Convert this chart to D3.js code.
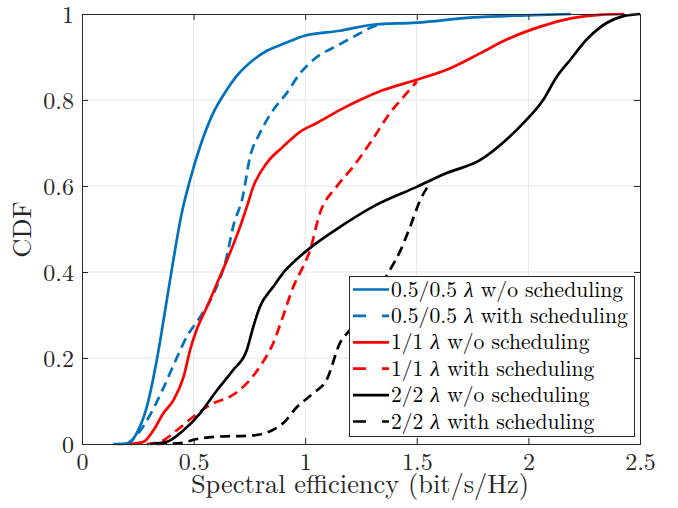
<!DOCTYPE html>
<html><head><meta charset="utf-8">
<script src="https://cdn.jsdelivr.net/npm/d3@7"></script>
<style>body{margin:0;background:#fff}svg{display:block}</style>
</head><body>
<svg id="c" width="678" height="508"></svg>
<script>
const FONT = '"Latin Modern Roman","CMU Serif","Liberation Serif",serif';
const xTicks = [0, 0.5, 1, 1.5, 2, 2.5];
const yTicks = [0, 0.2, 0.4, 0.6, 0.8, 1];
const seriesPrefix = ["0.5/0.5","0.5/0.5","1/1","1/1","2/2","2/2"];
const seriesSuffix = ["w/o scheduling","with scheduling","w/o scheduling","with scheduling","w/o scheduling","with scheduling"];
const seriesColors = ["#0072BD","#0072BD","#FF0000","#FF0000","#000000","#000000"];
const seriesDashed = [false,true,false,true,false,true];

const blueSolid = [[0.14,0],[0.19,0.001],[0.215,0.003],[0.245,0.025],[0.29,0.086],[0.335,0.195],[0.38,0.335],[0.41,0.43],[0.447,0.537],[0.484,0.614],[0.528,0.69],[0.588,0.77],[0.648,0.823],[0.70,0.86],[0.767,0.893],[0.83,0.915],[0.90,0.93],[1.0,0.95],[1.156,0.961],[1.30,0.975],[1.5,0.98],[1.75,0.992],[1.99,0.997],[2.19,1.0]];
const blueDash = [[0.2,0],[0.245,0.02],[0.30,0.063],[0.36,0.125],[0.42,0.195],[0.47,0.25],[0.53,0.296],[0.59,0.35],[0.648,0.435],[0.677,0.505],[0.72,0.575],[0.753,0.668],[0.797,0.723],[0.857,0.777],[0.917,0.816],[0.977,0.862],[1.036,0.893],[1.156,0.93],[1.245,0.955],[1.30,0.97],[1.35,0.975]];
const redSolid = [[0.215,0],[0.275,0.005],[0.32,0.032],[0.365,0.072],[0.41,0.102],[0.455,0.156],[0.484,0.218],[0.513,0.265],[0.56,0.319],[0.605,0.374],[0.65,0.428],[0.708,0.505],[0.738,0.551],[0.767,0.598],[0.827,0.653],[0.90,0.691],[0.977,0.726],[1.05,0.746],[1.156,0.777],[1.245,0.80],[1.35,0.823],[1.50,0.847],[1.65,0.874],[1.785,0.909],[1.90,0.94],[2.05,0.97],[2.19,0.99],[2.32,0.998],[2.43,1.0]];
const redDash = [[0.29,0],[0.35,0.005],[0.425,0.032],[0.50,0.064],[0.59,0.095],[0.663,0.11],[0.738,0.141],[0.797,0.18],[0.857,0.235],[0.90,0.296],[0.947,0.366],[0.99,0.412],[1.02,0.448],[1.066,0.537],[1.14,0.598],[1.215,0.645],[1.30,0.707],[1.38,0.77],[1.455,0.816],[1.50,0.843]];
const blackSolid = [[0.305,0],[0.38,0.005],[0.455,0.032],[0.53,0.072],[0.605,0.125],[0.677,0.172],[0.738,0.218],[0.767,0.272],[0.797,0.319],[0.857,0.366],[0.90,0.397],[0.963,0.43],[1.05,0.467],[1.156,0.505],[1.30,0.551],[1.50,0.598],[1.634,0.63],[1.783,0.66],[1.90,0.707],[1.99,0.753],[2.066,0.80],[2.127,0.854],[2.187,0.893],[2.26,0.94],[2.35,0.979],[2.425,0.995],[2.5,1.0]];
const blackDash = [[0.335,0],[0.455,0.003],[0.50,0.01],[0.605,0.017],[0.767,0.02],[0.90,0.048],[0.963,0.086],[1.036,0.118],[1.096,0.149],[1.156,0.235],[1.20,0.265],[1.30,0.34],[1.38,0.405],[1.425,0.448],[1.47,0.505],[1.515,0.567],[1.56,0.607]];
const seriesData = [blueSolid, blueDash, redSolid, redDash, blackSolid, blackDash];

const svg = d3.select("#c");
const L=82, R=640, T=14, B=444;
const x = d3.scaleLinear().domain([0,2.5]).range([L,R]);
const y = d3.scaleLinear().domain([0,1]).range([B,T]);

// grid
svg.append("g").selectAll("line").data(xTicks.slice(1,-1)).enter().append("line")
  .attr("x1",d=>x(d)).attr("x2",d=>x(d)).attr("y1",T).attr("y2",B)
  .attr("stroke","#e6e6e6").attr("stroke-width",1);
svg.append("g").selectAll("line").data(yTicks.slice(1,-1)).enter().append("line")
  .attr("y1",d=>y(d)).attr("y2",d=>y(d)).attr("x1",L).attr("x2",R)
  .attr("stroke","#e6e6e6").attr("stroke-width",1);

// curves
const line = d3.line().x(d=>x(d[0])).y(d=>y(d[1])).curve(d3.curveMonotoneX);
seriesData.forEach((s,i)=>{
  svg.append("path").datum(s).attr("d",line).attr("fill","none")
    .attr("stroke",seriesColors[i]).attr("stroke-width",2.7)
    .attr("stroke-linejoin","round")
    .attr("stroke-dasharray",seriesDashed[i]?"10,6":null);
});

// axes box
const fmt = d=>String(d);
const xa = svg.append("g").attr("transform",`translate(0,${B})`).call(d3.axisBottom(x).tickValues(xTicks).tickSize(-6).tickPadding(9).tickFormat(fmt));
const ya = svg.append("g").attr("transform",`translate(${L},0)`).call(d3.axisLeft(y).tickValues(yTicks).tickSize(-6).tickPadding(8).tickFormat(fmt));
const xt = svg.append("g").attr("transform",`translate(0,${T})`).call(d3.axisTop(x).tickValues(xTicks).tickSize(-6).tickFormat(""));
const yr = svg.append("g").attr("transform",`translate(${R},0)`).call(d3.axisRight(y).tickValues(yTicks).tickSize(-6).tickFormat(""));
[xa,ya,xt,yr].forEach(a=>{
  a.attr("font-family",null).attr("font-size",null);
  a.select(".domain").attr("stroke","#262626").attr("stroke-width",1);
  a.selectAll(".tick line").attr("stroke","#262626");
  a.selectAll("text").style("font-family",FONT).style("font-size","24px").attr("fill","#262626");
});
xa.selectAll("text").attr("dy","0.71em");
ya.selectAll("text").attr("dy","0.34em");

svg.append("text").attr("x",(L+R)/2-1).attr("y",493).attr("text-anchor","middle")
  .style("font-family",FONT).style("font-size","26.4px").attr("fill","#262626").text("Spectral efficiency (bit/s/Hz)");
svg.append("text").attr("transform","translate(31,229.5) rotate(-90)").attr("text-anchor","middle")
  .style("font-family",FONT).style("font-size","26.4px").attr("fill","#262626").text("CDF");

// legend
const lg = svg.append("g");
lg.append("rect").attr("x",349.5).attr("y",276.5).attr("width",285).attr("height",160).attr("fill","#fff").attr("stroke","#262626").attr("stroke-width",1);
seriesPrefix.forEach((p,i)=>{
  const cy = 289.5 + i*26.4;
  lg.append("line").attr("x1",353).attr("x2",389).attr("y1",cy).attr("y2",cy)
    .attr("stroke",seriesColors[i]).attr("stroke-width",2.7)
    .attr("stroke-dasharray",seriesDashed[i]?"13,16":null);
  const t = lg.append("text").attr("x",391).attr("y",cy).attr("dy","0.33em")
    .style("font-family",FONT).style("font-size","21.6px").attr("fill","#000");
  t.append("tspan").text(p+" ");
  t.append("tspan").style("font-style","italic").text("λ");
  t.append("tspan").text(" "+seriesSuffix[i]);
});
</script>
</body></html>
